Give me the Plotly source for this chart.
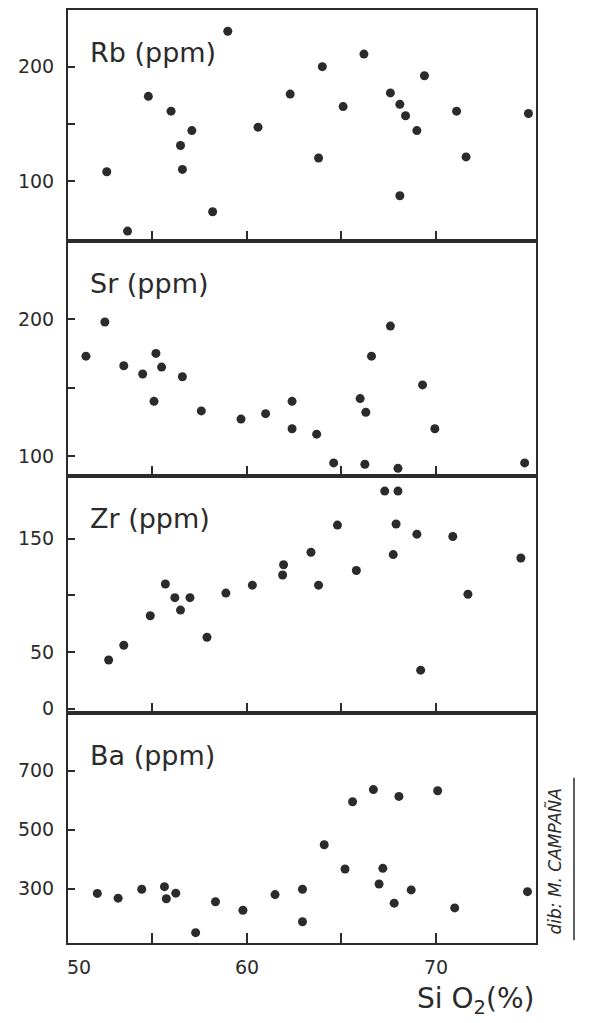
import plotly.graph_objects as go

# ---------------- data ----------------
rb_x = [52.6, 53.7, 54.8, 56.0, 56.5, 56.6, 57.1, 58.2, 59.0, 60.6, 62.3, 63.8,
        64.0, 65.1, 66.2, 67.6, 68.1, 68.1, 68.4, 69.0, 69.4, 71.1, 71.6, 74.9]
rb_y = [108, 56, 174, 161, 131, 110, 144, 73, 231, 147, 176, 120,
        200, 165, 211, 177, 167, 87, 157, 144, 192, 161, 121, 159]

sr_x = [51.5, 52.5, 53.5, 54.5, 55.2, 55.1, 55.5, 56.6, 57.6, 59.7, 61.0, 62.4,
        62.4, 63.7, 64.6, 66.0, 66.3, 66.25, 66.6, 67.6, 68.0, 69.3, 69.95, 74.7]
sr_y = [173, 198, 166, 160, 175, 140, 165, 158, 133, 127, 131, 140,
        120, 116, 95, 142, 132, 94, 173, 195, 91, 152, 120, 95]

zr_x = [52.7, 53.5, 54.9, 55.7, 56.2, 56.5, 57.0, 57.9, 58.9, 60.3, 61.9, 61.95,
        63.4, 63.8, 64.8, 65.8, 67.3, 68.0, 67.9, 67.75, 69.0, 69.2, 70.9, 71.7, 74.5]
zr_y = [43, 56, 82, 110, 98, 87, 98, 63, 102, 109, 118, 127,
        138, 109, 162, 122, 192, 192, 163, 136, 154, 34, 152, 101, 133]

ba_x = [52.1, 53.2, 54.45, 55.65, 55.75, 56.25, 57.3, 58.35, 59.8, 61.5, 62.95, 62.95,
        64.1, 65.2, 65.6, 66.7, 67.2, 67.0, 67.8, 68.05, 68.7, 70.1, 71.0, 74.85]
ba_y = [284, 268, 298, 307, 266, 285, 151, 256, 227, 280, 298, 188,
        449, 367, 595, 636, 369, 316, 251, 613, 296, 632, 235, 290]

panel_labels = ["Rb (ppm)", "Sr (ppm)", "Zr (ppm)", "Ba (ppm)"]
y_ranges = [[47.5, 249.6], [85.4, 257.3], [-3.8, 205.3], [116, 895.6]]
y_tickvals = [[100, 200], [100, 200], [0, 50, 150], [300, 500, 700]]
y_ticktext = [["100", "200"], ["100", "200"], ["0", "50", "150"],
              ["300", "500", "700"]]
y_minor_vals = [[150], [150], [100], []]
x_range = [50.55, 75.3]
x_tickvals = [55, 60, 65, 70]
x_label_vals = [51.15, 60, 70]
x_label_text = ["50", "60", "70"]
x_title = "Si O<sub>2</sub>(%)"
credit = "dib: M. CAMPAÑA"

# ---------------- figure ----------------
W, H = 589, 1023
ml, mr, mt, mb = 68, 53, 8, 80
ink = "#2b2b2b"
font = "DejaVu Sans"

# panel domains (paper fractions): Rb, Sr, Zr, Ba
domains = [[0.7526, 1.0], [0.5005, 0.7526], [0.2465, 0.5005], [0.0, 0.2465]]

series = [(rb_x, rb_y), (sr_x, sr_y), (zr_x, zr_y), (ba_x, ba_y)]

fig = go.Figure()
layout = dict(
    width=W, height=H,
    margin=dict(l=ml, r=mr, t=mt, b=mb),
    paper_bgcolor="white", plot_bgcolor="white",
    showlegend=False,
    font=dict(family=font, color=ink),
)
annotations = []
for i, (xs, ys) in enumerate(series):
    n = i + 1
    xa = "x" if n == 1 else f"x{n}"
    ya = "y" if n == 1 else f"y{n}"
    fig.add_trace(go.Scatter(
        x=xs, y=ys, mode="markers", xaxis=xa, yaxis=ya,
        marker=dict(size=9, color=ink, line=dict(width=0)),
        hoverinfo="x+y",
    ))
    layout[f"xaxis{'' if n == 1 else n}"] = dict(
        domain=[0, 1], range=x_range, anchor=ya,
        showgrid=False, zeroline=False,
        showline=True, mirror=True, linecolor=ink, linewidth=2,
        ticks="inside", ticklen=10, tickwidth=1.5, tickcolor=ink,
        tickvals=x_tickvals, showticklabels=False,
    )
    yax = dict(
        domain=domains[i], range=y_ranges[i], anchor=xa,
        showgrid=False, zeroline=False,
        showline=True, mirror=True, linecolor=ink, linewidth=2,
        ticks="inside", ticklen=7, tickwidth=1.5, tickcolor=ink,
        tickvals=y_tickvals[i], ticktext=y_ticktext[i],
        tickfont=dict(family=font, size=19, color=ink),
        ticklabelstandoff=8,
    )
    if y_minor_vals[i]:
        yax["minor"] = dict(tickmode="array", tickvals=y_minor_vals[i],
                            ticks="inside", ticklen=7, tickwidth=1.5,
                            tickcolor=ink, showgrid=False)
    layout[f"yaxis{'' if n == 1 else n}"] = yax
    annotations.append(dict(
        text=panel_labels[i], xref=f"{xa} domain", yref=f"{ya} domain",
        x=0.043, y=1, xanchor="left", yanchor="top", yshift=-25,
        showarrow=False, font=dict(family=font, size=27, color=ink),
    ))

# x tick labels on the bottom panel
for v, t in zip(x_label_vals, x_label_text):
    annotations.append(dict(
        text=t, xref="x4", yref="paper", x=v, y=-0.0257,
        xanchor="center", yanchor="middle", showarrow=False,
        font=dict(family=font, size=19, color=ink),
    ))

# axis title
annotations.append(dict(
    text=x_title, xref="paper", yref="paper", x=1.0, y=-0.062,
    xanchor="right", yanchor="middle", showarrow=False,
    font=dict(family=font, size=28, color=ink),
))

# draughtsman credit, rotated
annotations.append(dict(
    text=f"<i>{credit}</i>", xref="paper", yref="paper", x=1.04, y=0.087,
    xanchor="center", yanchor="middle", textangle=-90, showarrow=False,
    font=dict(family=font, size=17, color=ink),
))
layout["annotations"] = annotations
layout["shapes"] = [dict(
    type="line", xref="paper", yref="paper",
    x0=1.0 + 38 / 468, x1=1.0 + 38 / 468, y0=0.003, y1=0.177,
    line=dict(color=ink, width=1.5),
)]

fig.update_layout(**layout)
fig.write_html("out.html")
